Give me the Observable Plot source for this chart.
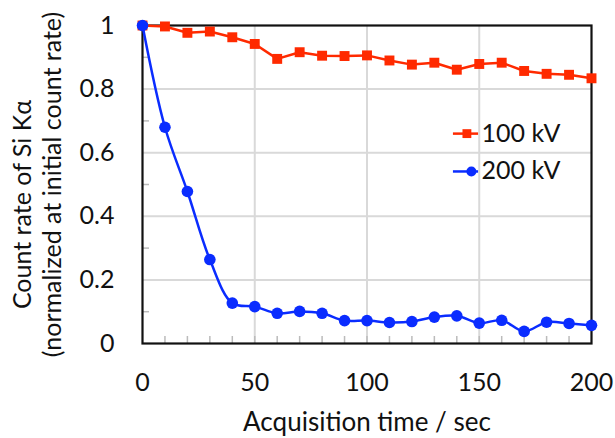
<!DOCTYPE html>
<html>
<head>
<meta charset="utf-8">
<script src="https://cdn.jsdelivr.net/npm/d3@7"></script>
<script src="https://cdn.jsdelivr.net/npm/@observablehq/plot@0.6"></script>
<style>
  html, body { margin: 0; padding: 0; background: #fff; }
</style>
</head>
<body>
<div id="chart"></div>
<script>
const times = [0,10,20,30,40,50,60,70,80,90,100,110,120,130,140,150,160,170,180,190,200];
const kv100 = [1.0,0.997,0.977,0.981,0.963,0.942,0.895,0.916,0.905,0.904,0.906,0.89,0.877,0.883,0.861,0.879,0.883,0.857,0.848,0.845,0.834];
const kv200 = [1.0,0.68,0.478,0.264,0.127,0.116,0.095,0.101,0.095,0.072,0.072,0.066,0.069,0.083,0.087,0.064,0.073,0.038,0.067,0.063,0.057];
const seriesNames = ["100 kV", "200 kV"];
const xTicks = [0,50,100,150,200];
const yTicks = [0,0.2,0.4,0.6,0.8,1];
const xTitle = "Acquisition time / sec";
const yTitle1 = "Count rate of Si K\u03b1";
const yTitle2 = "(normalized at initial count rate)";
// legend anchor positions in data units
const legendX = [138.5, 149.7];
const legendY = [0.66, 0.541];

const RED = "#ff2a00";
const BLUE = "#0a2cff";
const FONT = "Lato, 'Open Sans', sans-serif";

const d100 = times.map((t, i) => ({t, v: kv100[i]}));
const d200 = times.map((t, i) => ({t, v: kv200[i]}));
const legendData = seriesNames.map((name, i) => ({name, y: legendY[i]}));

const chart = Plot.plot({
  width: 615,
  height: 438,
  marginLeft: 142,
  marginRight: 24,
  marginTop: 25,
  marginBottom: 95,
  style: {fontFamily: FONT, background: "#fff", overflow: "visible"},
  x: {domain: [0, 200]},
  y: {domain: [0, 1]},
  marks: [
    Plot.ruleX(xTicks.slice(1, -1), {stroke: "#d9d9d9", strokeWidth: 2}),
    Plot.ruleY(yTicks.slice(1, -1), {stroke: "#d9d9d9", strokeWidth: 2}),
    Plot.axisX({ticks: d3.range(10, 200, 10), tickSize: -7, stroke: "#bbb", strokeWidth: 1.5, label: null, tickFormat: () => ""}),
    Plot.axisY({ticks: d3.range(0.1, 1, 0.2), tickSize: -7, stroke: "#bbb", strokeWidth: 1.5, label: null, tickFormat: () => ""}),
    Plot.axisX({ticks: xTicks, tickSize: 0, tickPadding: 30, fontSize: 25, fill: "#111", label: null}),
    Plot.axisY({ticks: yTicks, tickSize: 0, tickPadding: 28, fontSize: 25, fill: "#111", label: null, tickFormat: d => String(+d.toFixed(1))}),
    Plot.frame({stroke: "#111", strokeWidth: 2.2}),
    Plot.line(d100, {x: "t", y: "v", stroke: RED, strokeWidth: 2.5}),
    Plot.dot(d100, {x: "t", y: "v", symbol: "square", r: 5.6, fill: RED}),
    Plot.line(d200, {x: "t", y: "v", stroke: BLUE, strokeWidth: 2.5, curve: "catmull-rom"}),
    Plot.dot(d200, {x: "t", y: "v", r: 5.8, fill: BLUE}),
    // legend
    Plot.ruleY(legendData, {y: "y", x1: legendX[0], x2: legendX[1], stroke: (d, i) => i === 0 ? RED : BLUE, strokeWidth: 2.5}),
    Plot.dot(legendData.slice(0, 1), {x: 144.5, y: "y", symbol: "square", r: 5, fill: RED}),
    Plot.dot(legendData.slice(1), {x: 146.5, y: "y", r: 5, fill: BLUE}),
    Plot.text(legendData, {x: legendX[1], y: "y", text: "name", textAnchor: "start", dx: 3, fontSize: 25, fill: "#111"}),
    // axis titles
    Plot.text([xTitle], {frameAnchor: "bottom", dy: 87, fontSize: 26, fill: "#111"}),
    Plot.text([yTitle1], {frameAnchor: "left", textAnchor: "middle", dx: -120, dy: 20, rotate: -90, fontSize: 25, fill: "#111"}),
    Plot.text([yTitle2], {frameAnchor: "left", textAnchor: "middle", dx: -90, rotate: -90, fontSize: 25, fill: "#111"})
  ]
});
document.getElementById("chart").appendChild(chart);
</script>
</body>
</html>
